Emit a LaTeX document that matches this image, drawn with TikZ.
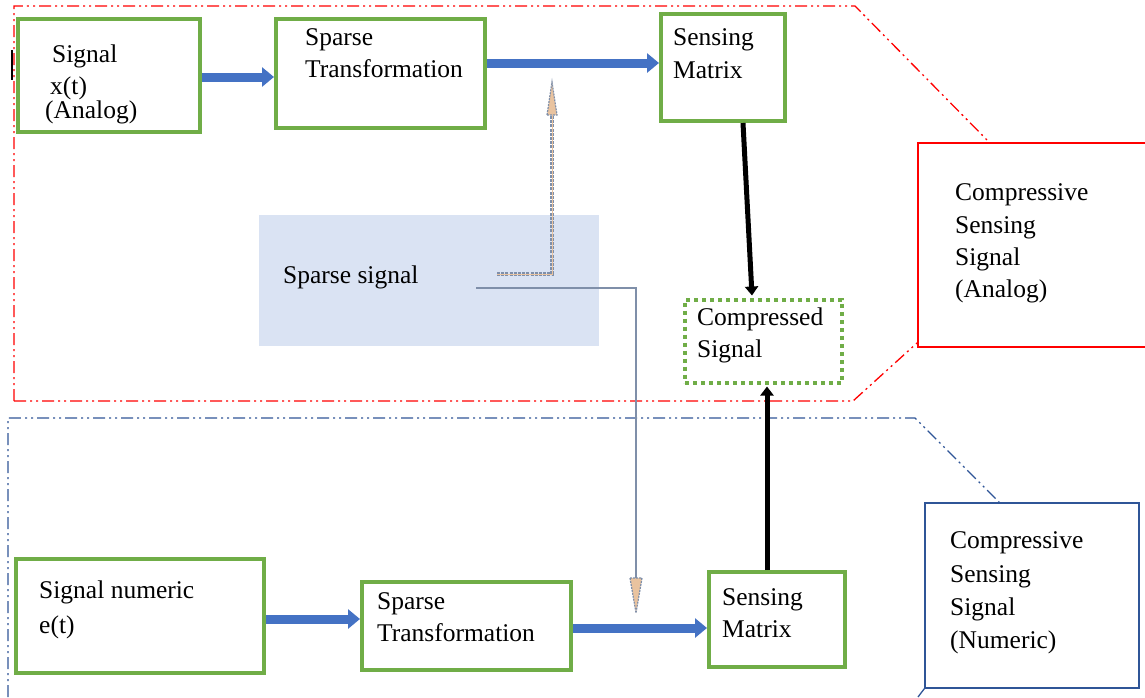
\documentclass[tikz,border=0pt]{standalone}
\usepackage{fontspec}
\setmainfont{Liberation Serif}
\usetikzlibrary{arrows.meta,calc}
\definecolor{gr}{HTML}{70AD47}
\definecolor{bl}{HTML}{4472C4}
\definecolor{navy}{HTML}{2F5597}
\definecolor{lb}{HTML}{DAE3F3}
\definecolor{gb}{HTML}{7F8FA9}
\definecolor{tanc}{HTML}{E9C39F}
\begin{document}
\begin{tikzpicture}[x=1pt,y=-1pt,
  gbox/.style={draw=gr,line width=4pt,inner sep=0pt},
  dbox/.style={draw=gr,line width=4pt,dash pattern=on 4pt off 4pt,inner sep=0pt},
  txt/.style={anchor=base west,inner sep=0pt,font=\fontsize{25.5}{33}\selectfont},
  barrow/.style={draw=bl,line width=9pt,-{Triangle[width=19pt,length=12pt]}},
  karrow/.style={draw=black,line width=5pt,-{Triangle[width=13pt,length=9pt]}},
  regred/.style={draw=red,line width=1.3pt,dash pattern=on 12pt off 4pt on 2pt off 4pt on 2pt off 4pt},
  regblue/.style={draw=navy,line width=1.3pt,dash pattern=on 12pt off 4pt on 2pt off 4pt on 2pt off 4pt},
  headst/.style={draw=gb,fill=tanc,line width=1.2pt,dash pattern=on 2pt off 1pt}
]
\useasboundingbox (0,0) rectangle (1145,697);

% region boxes
\node[draw=red,line width=1.5pt,minimum width=240,minimum height=204,inner sep=0pt] (csa) at (1038,245) {};
\node[draw=navy,line width=1.5pt,minimum width=214,minimum height=185,inner sep=0pt] (csb) at (1032,595.5) {};

\draw[regred] (14,401) -- (14,6) -- (855,6) -- ($(csa.north west)+(72,0)$);
\draw[regred] (14,401) -- (853,401) -- ($(csa.south west)+(0,-5)$);
\draw[regblue] (8,697) -- (8,418) -- (915,418) -- ($(csb.north west)+(75,0)$);
\draw[regblue] (csb.south west) -- (918,697);

% sparse signal background
\node[fill=lb,minimum width=340,minimum height=131,inner sep=0pt] (ss) at (429,280.5) {};

% green boxes
\node[gbox,minimum width=182,minimum height=113] (sig) at (109,75.5) {};
\node[gbox,minimum width=209,minimum height=109] (st1) at (380.5,73.5) {};
\node[gbox,minimum width=124,minimum height=107] (sm1) at (723,67.5) {};
\node[gbox,minimum width=248,minimum height=114] (sn) at (140,616) {};
\node[gbox,minimum width=209,minimum height=88] (st2) at (466.5,626) {};
\node[gbox,minimum width=136,minimum height=95] (sm2) at (777,619.5) {};
\node[dbox,minimum width=157,minimum height=83] (cs) at (763.5,341) {};

% stray mark
\draw[line width=2pt] (12,50) -- (12,80);

% texts
\node[txt] (t1) at (52,62) {Signal};
\node[txt] (t2) at (50,94) {x(t)};
\node[txt] (t3) at (45,118) {(Analog)};
\node[txt] (t4) at (305,45) {Sparse};
\node[txt] (t5) at (305,77) {Transformation};
\node[txt] (t6) at (673,45) {Sensing};
\node[txt] (t7) at (673,78) {Matrix};
\node[txt] (t8) at (283,283) {Sparse signal};
\node[txt] (t9) at (697,325) {Compressed};
\node[txt] (t10) at (697,357) {Signal};
\node[txt] (t11) at (955,200) {Compressive};
\node[txt] (t12) at (955,233) {Sensing};
\node[txt] (t13) at (955,265) {Signal};
\node[txt] (t14) at (955,297) {(Analog)};
\node[txt] (t15) at (39,598) {Signal numeric};
\node[txt] (t16) at (39,633) {e(t)};
\node[txt] (t17) at (377,609) {Sparse};
\node[txt] (t18) at (377,641) {Transformation};
\node[txt] (t19) at (722,605) {Sensing};
\node[txt] (t20) at (722,637) {Matrix};
\node[txt] (t21) at (950,548) {Compressive};
\node[txt] (t22) at (950,582) {Sensing};
\node[txt] (t23) at (950,615) {Signal};
\node[txt] (t24) at (950,648) {(Numeric)};

% blue block arrows
\draw[barrow] ([yshift=-1.5pt]sig.east) -- ([yshift=-1.5pt]sig.east -| st1.west);
\draw[barrow] ([yshift=10.5pt]st1.east) -- ([yshift=10.5pt]st1.east -| sm1.west);
\draw[barrow] ([yshift=-3pt]sn.east) -- ([yshift=-3pt]sn.east -| st2.west);
\draw[barrow] ([yshift=-2pt]st2.east) -- ([yshift=-2pt]st2.east -| sm2.west);

% black arrows
\draw[karrow] ([xshift=20pt]sm1.south) -- ([xshift=-11.5pt,yshift=2pt]cs.north);
\draw[karrow] ([xshift=-10pt]sm2.north) -- ([xshift=3.5pt,yshift=-2pt]cs.south);

% dashed arrow up
\coordinate (p1) at (497,274);
\coordinate (p1e) at (552,115);
\draw[gb,line width=4.5pt,dash pattern=on 3pt off 1.2pt] (p1) -| (p1e);
\draw[tanc,line width=0.8pt] (p1) -| (p1e);
\draw[headst] (p1e) ++(-5,0) -- ++(5,-33) -- ++(5,33) -- cycle;

% dotted arrow down
\coordinate (p2) at (476,288);
\coordinate (p2e) at (636,578);
\draw[gb,line width=2pt] (p2) -| (p2e);
\draw[headst] (p2e) ++(-6,0) -- ++(6,35) -- ++(6,-35) -- cycle;
\end{tikzpicture}
\end{document}
